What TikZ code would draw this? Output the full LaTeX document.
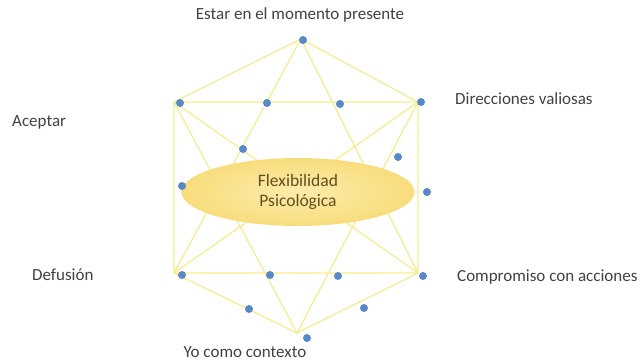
\documentclass[tikz,border=0pt]{standalone}
\usepackage{fontspec}
\setmainfont{Carlito}
\usetikzlibrary{shapes.geometric}
\definecolor{hexline}{RGB}{246,236,140}
\definecolor{dotblue}{RGB}{88,136,200}
\definecolor{ellouter}{RGB}{248,221,125}
\definecolor{ellinner}{RGB}{252,236,170}
\definecolor{labelgray}{RGB}{65,65,65}
\definecolor{ellbrown}{RGB}{100,78,30}
\def \edgecolor {hexline}
\def \edgewidth {1.2pt}
\def \dotsize {8pt}
\def \labelfont {\fontsize{17}{20}\selectfont}

\begin{document}
\begin{tikzpicture}[x=1pt,y=-1pt,
  edge/.style={draw=\edgecolor, line width=\edgewidth, line join=round},
  dot/.style={circle, fill=dotblue, minimum size=\dotsize, inner sep=0pt},
  lab/.style={inner sep=0pt, text=labelgray, font=\labelfont}]
\useasboundingbox (0,0) rectangle (642,362);
% Corners of the hexagon
\coordinate (top) at (301,39);
\coordinate (ul) at (174,102);
\coordinate (ur) at (418,102);
\coordinate (ll) at (174,273);
\coordinate (lr) at (418,273);
\coordinate (bot) at (297,333);
% Draw the outside hexagon
\draw[edge] (top) -- (ul) -- (ll) -- (bot) -- (lr) -- (ur) -- cycle;
% Draw the two triangles
\draw[edge] (top) -- (ll) -- (lr) -- cycle;
\draw[edge] (ul) -- (ur) -- (bot) -- cycle;
% Draw the diagonals
\draw[edge] (ul) -- (lr);
\draw[edge] (ur) -- (ll);
% Draw the ellipse in the middle
\node[ellipse, inner color=ellinner, outer color=ellouter, minimum width=233pt,
  minimum height=68pt, align=center, text=ellbrown,
  font=\fontsize{17.5}{20}\selectfont] (flex)
  at (298,192) {Flexibilidad\\Psicológica};
% Draw the dots
\foreach \n/\px/\py in {1/303/40, 2/180/103, 3/267/103, 4/340/104, 5/421/102,
  6/243/149, 7/398/157, 8/182/186, 9/427/192, 10/182/275, 11/270/275,
  12/338/276, 13/423/276, 14/249/309, 15/364/308, 16/307/338}
  \node[dot] (d\n) at (\px,\py) {};
% Draw the labels
\node[lab] (presente) at (300,15) {Estar en el momento presente};
\node[lab, anchor=west] (valiosas) at (455,99) {Direcciones valiosas};
\node[lab, anchor=west] (aceptar) at (12,122) {Aceptar};
\node[lab, anchor=west] (defusion) at (32,275) {Defusión};
\node[lab, anchor=west] (compromiso) at (457,277) {Compromiso con acciones};
\node[lab] (contexto) at (245,352) {Yo como contexto};
\end{tikzpicture}
\end{document}
